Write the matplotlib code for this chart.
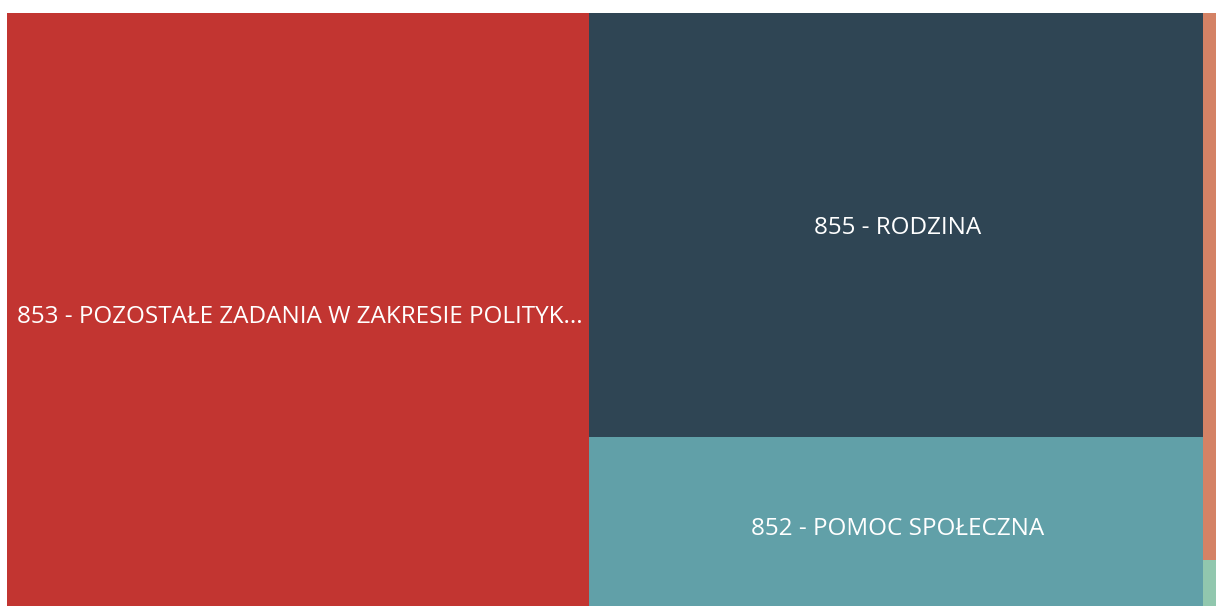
import matplotlib.pyplot as plt
from matplotlib.patches import Rectangle

# wydatki wg rozdziałów (dział 85x), wartości w tys. zł
labels = ['853 - POZOSTAŁE ZADANIA W ZAKRESIE POLITYKI SPOŁECZNEJ',
          '855 - RODZINA',
          '852 - POMOC SPOŁECZNA',
          '851 - OCHRONA ZDROWIA',
          '854 - EDUKACYJNA OPIEKA WYCHOWAWCZA']
values = [350364, 260336, 109292, 16410, 1650]
colors = ['#c23531', '#2f4554', '#61a0a8', '#d48265', '#91c7ae']
# podział na kolumny (indeksy w labels/values)
columns = [[0], [1, 2], [3, 4]]

# obszar mapy w pikselach figury
x0, y0, W, H = 7, 13, 1226, 602

fig = plt.figure(figsize=(12.16, 6.06), dpi=100)
ax = fig.add_axes([0, 0, 1, 1])
ax.set_xlim(0, 1216)
ax.set_ylim(606, 0)
ax.set_axis_off()

total = sum(values)


def short(txt, n=42):
    return txt if len(txt) <= n else txt[:n] + '...'


x = x0
for col in columns:
    col_sum = sum(values[i] for i in col)
    w = col_sum / total * W
    y = y0
    for i in col:
        h = values[i] / col_sum * H
        ax.add_patch(Rectangle((x, y), w, h, facecolor=colors[i],
                               edgecolor='none'))
        if w > 100 and h > 40:
            ax.text(x + w / 2 + 2, y + h / 2 + 3, short(labels[i]),
                    color='white', ha='center', va='center', fontsize=17.5,
                    family='Open Sans')
        y += h
    x += w

plt.savefig('out.png', dpi=100)
